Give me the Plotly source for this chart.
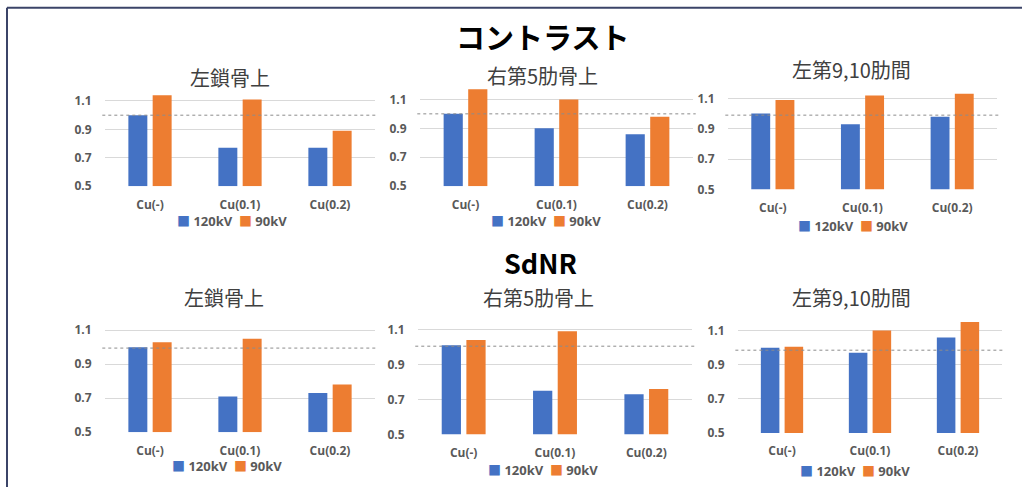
import plotly.graph_objects as go

W, H = 1022, 495

categories = ["Cu(-)", "Cu(0.1)", "Cu(0.2)"]
series_names = ["120kV", "90kV"]
panel_titles = ["左鎖骨上", "右第5肋骨上", "左第9,10肋間",
                "左鎖骨上", "右第5肋骨上", "左第9,10肋間"]
section_titles = ["コントラスト", "SdNR"]

# Contrast
contrast_120 = [[1.00, 0.77, 0.77], [1.00, 0.90, 0.86], [1.00, 0.93, 0.98]]
contrast_90 = [[1.14, 1.11, 0.89], [1.17, 1.10, 0.98], [1.09, 1.12, 1.13]]
# SdNR
sdnr_120 = [[1.00, 0.71, 0.73], [1.01, 0.75, 0.73], [1.00, 0.97, 1.06]]
sdnr_90 = [[1.03, 1.05, 0.78], [1.04, 1.09, 0.76], [1.005, 1.10, 1.15]]
ref_line = [1.0, 1.0, 0.99, 0.995, 1.005, 0.985]

y_ticks = [0.5, 0.7, 0.9, 1.1]
y_range = [0.5, 1.2]

colors = ["#4472C4", "#ED7D31"]
grey = "#595959"
latin = "Open Sans, Noto Sans CJK JP, sans-serif"
cjk = "Noto Sans CJK JP, sans-serif"

# panel pixel boxes: (left, right, top, bottom)
boxes = [
    (105, 375, 88.2, 189.3),
    (420, 693, 86.3, 189.3),
    (728, 997, 84.6, 192.7),
    (105, 375, 318.4, 439.3),
    (418, 692, 317.2, 441.7),
    (738, 1002, 318.7, 440.0),
]
title_pos = [(230, 79), (542, 77), (851, 71), (224, 302), (538, 302), (851, 302)]
legend_pos = [(232, 225), (546, 225), (853, 230), (227, 474), (543, 478), (855, 479)]
section_pos = [(542, 37), (540, 267)]


def px(x):
    return x / W


def py(y):
    return 1 - y / H


fig = go.Figure()
vals120 = contrast_120 + sdnr_120
vals90 = contrast_90 + sdnr_90

annotations = []
shapes = []
for i in range(6):
    xa = "x" if i == 0 else f"x{i+1}"
    ya = "y" if i == 0 else f"y{i+1}"
    for s, vals in enumerate([vals120[i], vals90[i]]):
        fig.add_trace(go.Bar(
            x=categories, y=[v - 0.5 for v in vals], base=0.5,
            name=series_names[s], marker=dict(color=colors[s], line=dict(width=0)),
            xaxis=xa, yaxis=ya, showlegend=False,
        ))
    l, r, t, b = boxes[i]
    key = "" if i == 0 else str(i + 1)
    fig.layout["xaxis" + key] = dict(
        domain=[px(l), px(r)], anchor=ya, showgrid=False, zeroline=False, showline=False,
        ticks="outside", ticklen=7, tickcolor="rgba(0,0,0,0)",
        tickfont=dict(family=latin, size=12, color=grey, weight="bold"),
        fixedrange=True,
    )
    fig.layout["yaxis" + key] = dict(
        domain=[py(b), py(t)], anchor=xa, range=y_range, tickvals=y_ticks,
        ticktext=[f"{v:.1f}" for v in y_ticks],
        showgrid=True, gridcolor="#D9D9D9", gridwidth=1, zeroline=False, showline=False,
        ticks="outside", ticklen=10, tickcolor="rgba(0,0,0,0)",
        tickfont=dict(family=latin, size=12, color=grey, weight="bold"),
        fixedrange=True,
    )
    shapes.append(dict(
        type="line", xref=f"{xa} domain", yref=ya, x0=-0.01, x1=1.01,
        y0=ref_line[i], y1=ref_line[i], line=dict(color="#8C8C8C", width=1, dash="dot"),
        layer="above",
    ))
    tx, ty = title_pos[i]
    annotations.append(dict(
        text=panel_titles[i], x=px(tx), y=py(ty), xref="paper", yref="paper",
        showarrow=False, xanchor="center", yanchor="middle",
        font=dict(family=cjk, size=20, color="#404040"),
    ))
    lx, ly = legend_pos[i]
    annotations.append(dict(
        text=(f'<span style="color:{colors[0]}">■</span> {series_names[0]}  '
              f'<span style="color:{colors[1]}">■</span> {series_names[1]}'),
        x=px(lx), y=py(ly), xref="paper", yref="paper",
        showarrow=False, xanchor="center", yanchor="middle", borderpad=0,
        font=dict(family=latin, size=13, color=grey, weight="bold"),
    ))

for j, txt in enumerate(section_titles):
    sx, sy = section_pos[j]
    annotations.append(dict(
        text=txt, x=px(sx), y=py(sy), xref="paper", yref="paper",
        showarrow=False, xanchor="center", yanchor="middle", borderpad=0,
        font=dict(family=cjk, size=29 if j == 0 else 27, color="#000000", weight="bold"),
    ))

# frame lines (top and left)
shapes.append(dict(type="line", xref="paper", yref="paper", x0=px(7), x1=1.0,
                   y0=py(8), y1=py(8), line=dict(color="#3B4468", width=2)))
shapes.append(dict(type="line", xref="paper", yref="paper", x0=px(7), x1=px(7),
                   y0=0, y1=py(8), line=dict(color="#3B4468", width=2)))

fig.update_layout(
    width=W, height=H, margin=dict(l=0, r=0, t=0, b=0),
    paper_bgcolor="white", plot_bgcolor="rgba(0,0,0,0)",
    barmode="group", bargap=0.46, bargroupgap=0.22,
    annotations=annotations, shapes=shapes, showlegend=False,
)

fig.write_html("out.html")
